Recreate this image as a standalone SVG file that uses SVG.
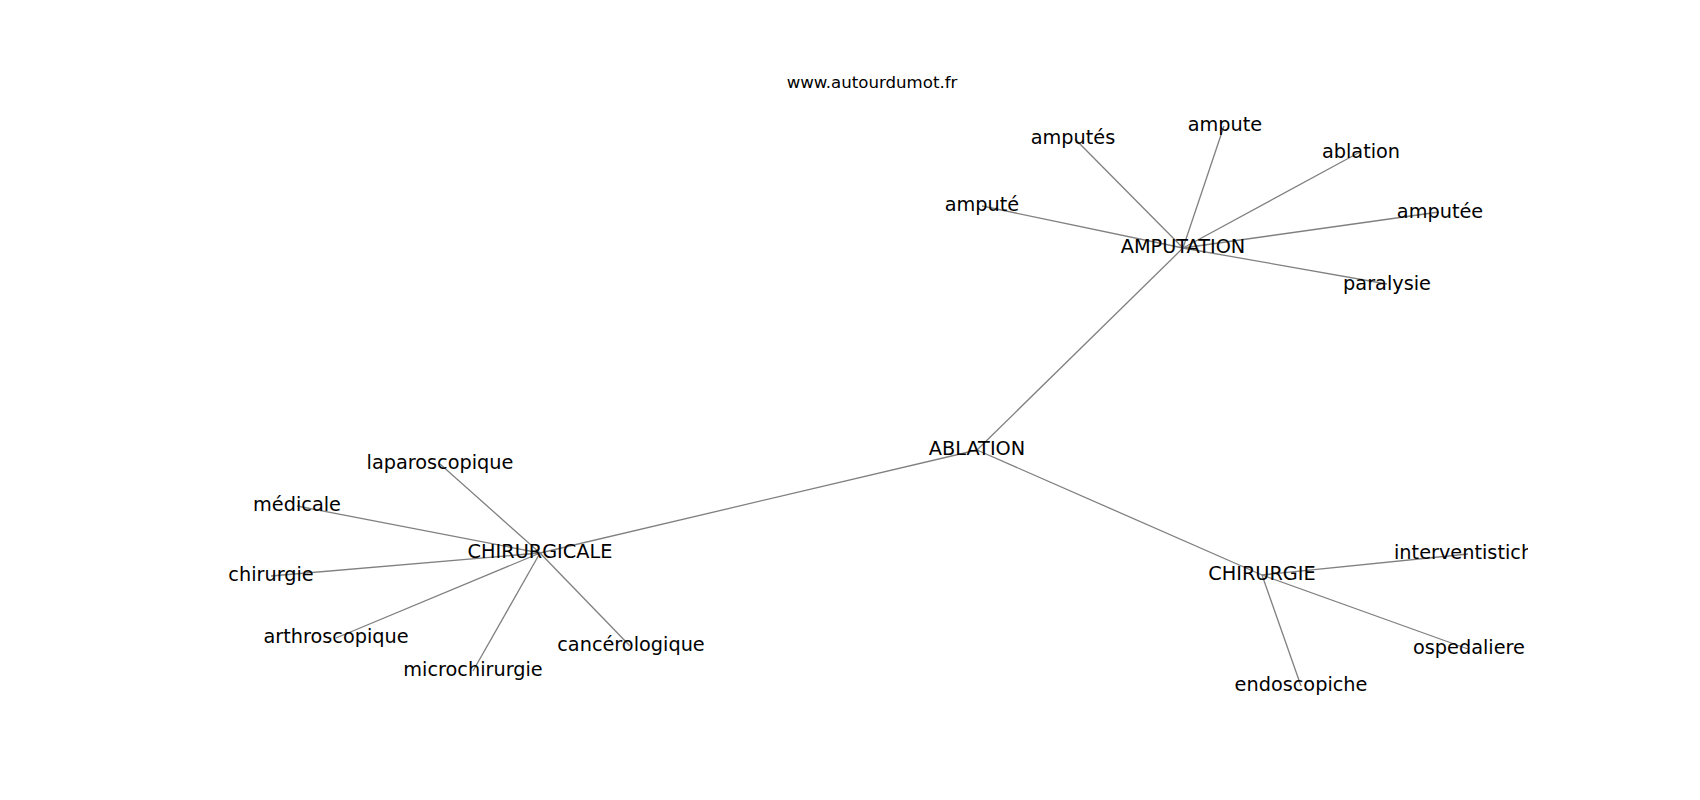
<svg xmlns="http://www.w3.org/2000/svg" width="1700" height="800" viewBox="0 0 1700 800">
<style>
text{font-family:"DejaVu Sans","Liberation Sans",sans-serif;fill:#000;}
.lbl{font-size:19.3px;text-anchor:middle;}
.ttl{font-size:16.6px;text-anchor:middle;}
.edges line{stroke:#808080;stroke-width:1.3;}
</style>
<defs>
<clipPath id="axclip"><rect x="0" y="0" width="1528" height="800"/></clipPath>
</defs>
<rect width="1700" height="800" fill="#fff"/>
<text class="ttl" x="872" y="88">www.autourdumot.fr</text>
<g id="connectors" class="edges">
<line x1="977" y1="450" x2="1183" y2="248"/>
<line x1="977" y1="450" x2="540" y2="553"/>
<line x1="977" y1="450" x2="1262" y2="575"/>
<line x1="1183" y1="248" x2="1075" y2="139"/>
<line x1="1183" y1="248" x2="1224" y2="126"/>
<line x1="1183" y1="248" x2="1360" y2="152"/>
<line x1="1183" y1="248" x2="1439" y2="212"/>
<line x1="1183" y1="248" x2="1387" y2="284"/>
<line x1="1183" y1="248" x2="982" y2="206"/>
<line x1="540" y1="553" x2="440" y2="464"/>
<line x1="540" y1="553" x2="297" y2="506"/>
<line x1="540" y1="553" x2="271" y2="576"/>
<line x1="540" y1="553" x2="336" y2="638"/>
<line x1="540" y1="553" x2="473" y2="671"/>
<line x1="540" y1="553" x2="630" y2="646"/>
<line x1="1262" y1="575" x2="1468" y2="554"/>
<line x1="1262" y1="575" x2="1468" y2="649"/>
<line x1="1262" y1="575" x2="1301" y2="686"/>
</g>
<g id="n-ablation"><text class="lbl" x="977" y="455">ABLATION</text></g>
<g id="n-amputation"><text class="lbl" x="1183" y="253">AMPUTATION</text></g>
<g id="n-chirurgicale"><text class="lbl" x="540" y="558">CHIRURGICALE</text></g>
<g id="n-chirurgie"><text class="lbl" x="1262" y="580">CHIRURGIE</text></g>
<g id="n-amputes"><text class="lbl" x="1073" y="144">amputés</text></g>
<g id="n-ampute"><text class="lbl" x="1225" y="131">ampute</text></g>
<g id="n-ablation-leaf"><text class="lbl" x="1361" y="158">ablation</text></g>
<g id="n-amputee"><text class="lbl" x="1440" y="218">amputée</text></g>
<g id="n-paralysie"><text class="lbl" x="1387" y="290">paralysie</text></g>
<g id="n-ampute-m"><text class="lbl" x="982" y="211">amputé</text></g>
<g id="n-laparoscopique"><text class="lbl" x="440" y="469">laparoscopique</text></g>
<g id="n-medicale"><text class="lbl" x="297" y="511">médicale</text></g>
<g id="n-chirurgie-leaf"><text class="lbl" x="271" y="581">chirurgie</text></g>
<g id="n-arthroscopique"><text class="lbl" x="336" y="643">arthroscopique</text></g>
<g id="n-microchirurgie"><text class="lbl" x="473" y="676">microchirurgie</text></g>
<g id="n-cancerologique"><text class="lbl" x="631" y="651">cancérologique</text></g>
<g id="n-interventistiche" clip-path="url(#axclip)"><text class="lbl" x="1394" y="559" style="text-anchor:start">interventistich</text></g>
<g id="n-ospedaliere"><text class="lbl" x="1469" y="654">ospedaliere</text></g>
<g id="n-endoscopiche"><text class="lbl" x="1301" y="691">endoscopiche</text></g>
</svg>
